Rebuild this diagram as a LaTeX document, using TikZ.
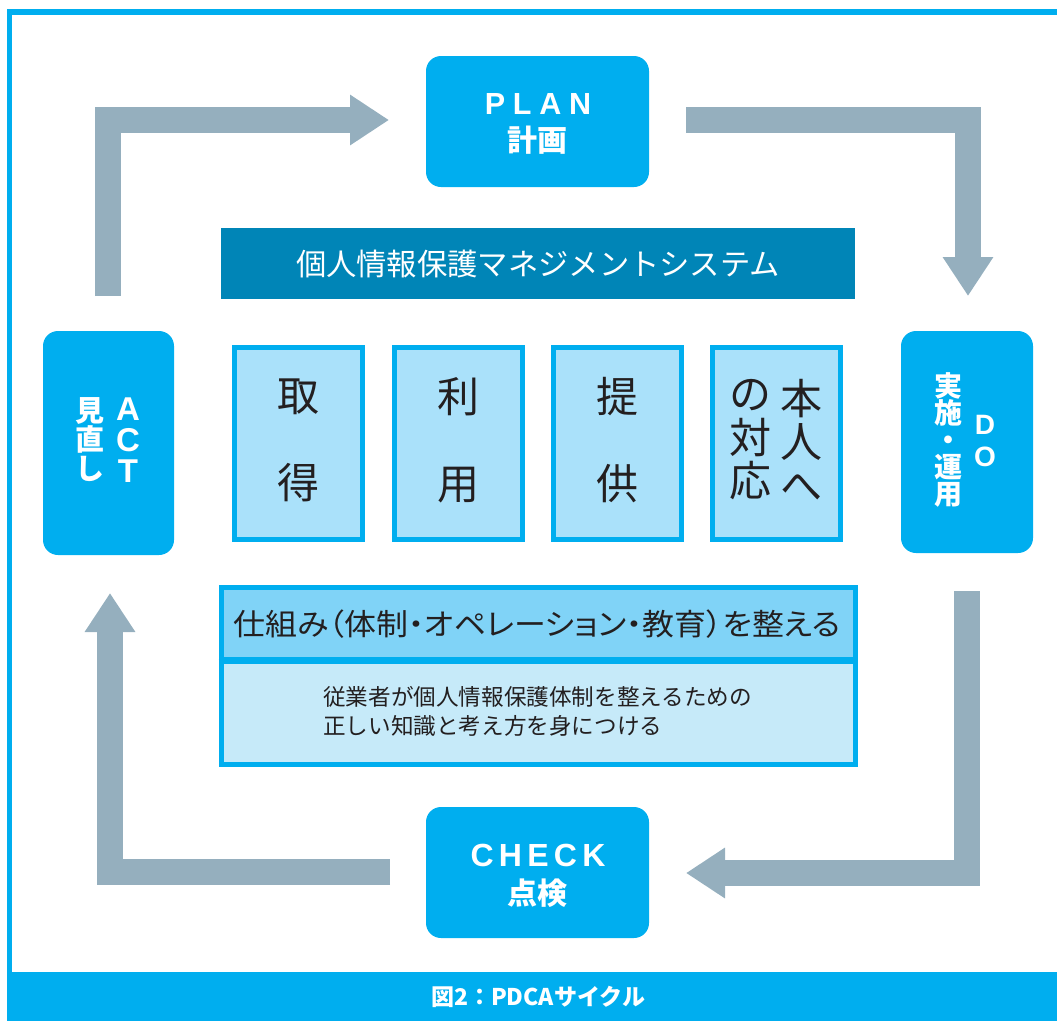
\documentclass[tikz,border=0pt]{standalone}
\usepackage{fontspec}
\usepackage{graphicx}
\usetikzlibrary{arrows.meta}
\newfontfamily\jp{Noto Sans CJK JP}
\newfontfamily\jpp[RawFeature=+palt]{Noto Sans CJK JP}
\newfontfamily\lat{Liberation Sans}
\definecolor{cyanA}{HTML}{00AEEF}
\definecolor{barB}{HTML}{0085B7}
\definecolor{arrG}{HTML}{95AFBE}
\definecolor{colF}{HTML}{AAE1FA}
\definecolor{headF}{HTML}{80D3F7}
\definecolor{bodyF}{HTML}{C6EAF9}
\definecolor{ink}{HTML}{231F20}
\tikzset{
  phase/.style={fill=cyanA, rounded corners=15pt, inner sep=0pt},
  phasetext/.style={text=white, align=center, inner sep=0pt},
  colbox/.style={draw=cyanA, line width=5pt, fill=colF, minimum width=128pt, minimum height=192pt, inner sep=0pt},
  coltext/.style={text=ink, align=center, inner sep=0pt, font=\jp\fontsize{42}{43.5}\selectfont},
  bigarrow/.style={draw=arrG, line width=26pt, line join=miter, -{Triangle[length=39pt,width=48pt]}}
}
\begin{document}
\begin{tikzpicture}[x=1pt,y=-1pt]
\useasboundingbox (0,0) rectangle (1057,1021);
% frame
\fill[cyanA] (7,9) rectangle (1057,15);
\fill[cyanA] (7,9) rectangle (12,975);
\fill[cyanA] (7,972) rectangle (1057,1021);
\node[text=white, inner sep=0pt, font=\jp\bfseries\fontsize{23}{23}\selectfont] (cap) at (538,997) {図2：PDCAサイクル};

% phase boxes
\node[phase, minimum width=223pt, minimum height=131pt] (plan) at (537.5,121.5) {};
\node[phasetext, anchor=base, font=\lat\bfseries\fontsize{30.5}{31}\selectfont] (plant) at (538,114) {P\kern7.8pt L\kern7.8pt A\kern7.8pt N};
\node[phasetext, anchor=base, font=\jp\bfseries\fontsize{30}{30}\selectfont] (planj) at (537.5,151) {計画};

\node[phase, minimum width=132pt, minimum height=222pt] (do) at (967,442) {};
\node[phasetext, font=\jp\bfseries\fontsize{28}{27}\selectfont] at (948,439.5) {実\\施\\・\\運\\用};
\node[phasetext, font=\lat\bfseries\fontsize{28}{32}\selectfont] at (985,441) {D\\O};

\node[phase, minimum width=223pt, minimum height=131pt] (check) at (537.5,872.5) {};
\node[phasetext, anchor=base, font=\lat\bfseries\fontsize{32}{32}\selectfont] (checkt) at (538,866) {C\kern5.3pt H\kern5.3pt E\kern5.3pt C\kern5.3pt K};
\node[phasetext, anchor=base, font=\jp\bfseries\fontsize{30}{30}\selectfont] (checkj) at (537.5,904) {点検};

\node[phase, minimum width=131pt, minimum height=224pt] (act) at (108.5,443) {};
\node[phasetext, font=\jp\bfseries\fontsize{29}{29}\selectfont] at (90,440) {見\\直\\し};
\node[phasetext, font=\lat\bfseries\fontsize{33}{31}\selectfont] at (128,440) {A\\C\\T};

% system bar
\node[fill=barB, minimum width=634pt, minimum height=71pt, inner sep=0pt, text=white, font=\jp\fontsize{30.3}{30}\selectfont] (sys) at (538,263.5) {個人情報保護マネジメントシステム};

% columns
\node[colbox] (c1) at (298.5,443.5) {};
\node[colbox] (c2) at (458.5,443.5) {};
\node[colbox] (c3) at (617,443.5) {};
\node[colbox] (c4) at (776,443.5) {};
\node[coltext] at (298,440) {取\\[43.5pt]得};
\node[coltext] at (458.5,440) {利\\[43.5pt]用};
\node[coltext] at (617,440) {提\\[43.5pt]供};
\node[coltext] at (801,440) {本\\人\\へ};
\node[coltext] at (750,440) {の\\対\\応};

% bottom box
\node[draw=cyanA, line width=5pt, fill=headF, minimum width=634pt, minimum height=72pt, inner sep=0pt] (hdr) at (538,623) {};
\node[draw=cyanA, line width=5pt, fill=bodyF, minimum width=634pt, minimum height=105pt, inner sep=0pt] (bdy) at (538,711.5) {};
\draw[cyanA, line width=5pt] (hdr.south west) -- (hdr.south east);
\node[text=ink, inner sep=0pt, font=\jpp\fontsize{30}{30}\selectfont] at (537,624) {\scalebox{1.064}[1]{仕組み（体制・オペレーション・教育）を整える}};
\node[text=ink, inner sep=0pt, anchor=west, align=left, font=\jp\fontsize{22.6}{29}\selectfont] at (323,711.5) {従業者が個人情報保護体制を整えるための\\正しい知識と考え方を身につける};

% arrows
\coordinate (a1s) at (108,296); \coordinate (a1e) at (389,120);
\coordinate (a2s) at (686,120); \coordinate (a2e) at (968,296);
\coordinate (a3s) at (967,591); \coordinate (a3e) at (686,873);
\coordinate (a4s) at (390,872); \coordinate (a4e) at (110,593);
\draw[bigarrow] (a1s) |- (a1e);
\draw[bigarrow] (a2s) -| (a2e);
\draw[bigarrow] (a3s) |- (a3e);
\draw[bigarrow] (a4s) -| (a4e);
\end{tikzpicture}
\end{document}
